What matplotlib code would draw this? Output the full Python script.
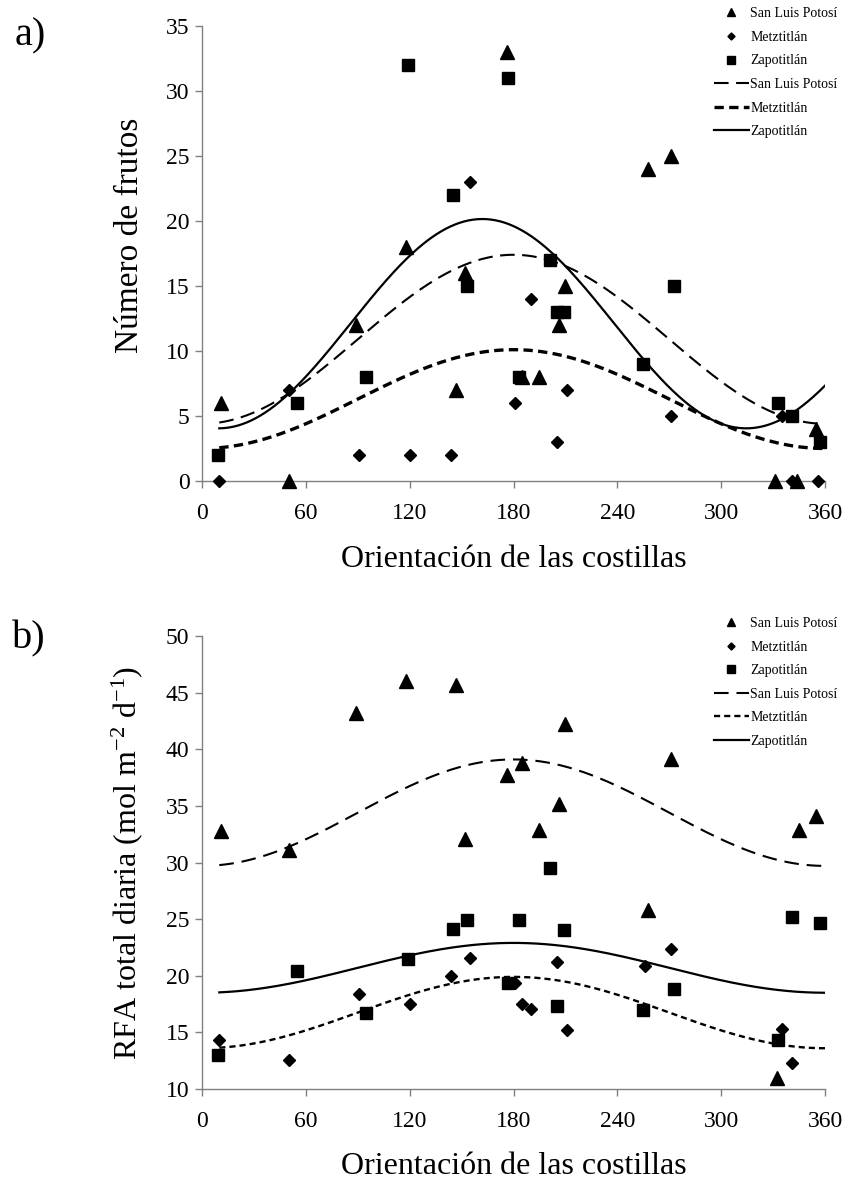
import numpy as np
import matplotlib
matplotlib.use('Agg')
import matplotlib.pyplot as plt

plt.rcParams['font.family'] = ['Liberation Serif', 'DejaVu Serif']
plt.rcParams['mathtext.fontset'] = 'custom'
plt.rcParams['mathtext.rm'] = 'Liberation Serif'
plt.rcParams['mathtext.it'] = 'Liberation Serif:italic'

sites = ['San Luis Potosí', 'Metztitlán', 'Zapotitlán']

# a) numero de frutos
slp_x_a = [11, 50, 89, 118, 147, 152, 176, 185, 195, 206, 210, 258, 271, 331, 344, 355]
slp_y_a = [6, 0, 12, 18, 7, 16, 33, 8, 8, 12, 15, 24, 25, 0, 0, 4]
met_x_a = [10, 50, 91, 120, 144, 155, 181, 190, 205, 211, 271, 335, 341, 356]
met_y_a = [0, 7, 2, 2, 2, 23, 6, 14, 3, 7, 5, 5, 0, 0]
zap_x_a = [9, 55, 95, 119, 145, 153, 177, 183, 201, 205, 209, 255, 273, 333, 341, 357]
zap_y_a = [2, 6, 8, 32, 22, 15, 31, 8, 17, 13, 13, 9, 15, 6, 5, 3]

# b) RFA total diaria
slp_x_b = [11, 50, 89, 118, 147, 152, 176, 185, 195, 206, 210, 258, 271, 332, 345, 355]
slp_y_b = [32.8, 31.1, 43.2, 46.0, 45.7, 32.1, 37.7, 38.8, 32.9, 35.2, 42.2, 25.8, 39.1, 11.0, 32.9, 34.1]
met_x_b = [10, 50, 91, 120, 144, 155, 181, 185, 190, 205, 211, 256, 271, 335, 341]
met_y_b = [14.3, 12.6, 18.4, 17.5, 20.0, 21.6, 19.4, 17.5, 17.1, 21.2, 15.2, 20.9, 22.4, 15.3, 12.3]
zap_x_b = [9, 55, 95, 119, 145, 153, 177, 183, 201, 205, 209, 255, 273, 333, 341, 357]
zap_y_b = [13.0, 20.4, 16.7, 21.5, 24.1, 24.9, 19.4, 24.9, 29.5, 17.3, 24.05, 16.96, 18.8, 14.3, 25.2, 24.7]

# fitted cosine curves: mean, amplitude, peak (deg), period (deg)
fit_a = [[10.9, 6.5, 180, 360], [6.3, 3.8, 180, 360], [12.1, 8.05, 162, 305]]
fit_b = [[34.4, 4.7, 180, 360], [16.75, 3.15, 180, 360], [20.7, 2.2, 180, 360]]

markers = [('^', 9.5), ('D', 5.8), ('s', 8.8)]


def cosine_fit(pars, x):
    mean, amp, peak, period = pars
    return mean + amp * np.cos(2 * np.pi * (x - peak) / period)


def draw_panel(ax, xs, ys, fits, line_styles, ylim, yticks, ylabel, ylabel_size, ylabel_y, leg_anchor):
    for (m, ms), x, y, name in zip(markers, xs, ys, sites):
        ax.plot(x, y, ls='none', marker=m, ms=ms, color='black', label=name,
                clip_on=False, zorder=4)
    xx = np.linspace(10, 360, 400)
    for pars, st, name in zip(fits, line_styles, sites):
        ax.plot(xx, cosine_fit(pars, xx), color='black', label=name, zorder=3, **st)

    ax.set_xlim(0, 360)
    ax.set_ylim(*ylim)
    ax.set_xticks(np.arange(0, 361, 60))
    ax.set_yticks(yticks)
    for s in ['top', 'right']:
        ax.spines[s].set_visible(False)
    for s in ['left', 'bottom']:
        ax.spines[s].set_color('#808080')
        ax.spines[s].set_linewidth(1.0)
    ax.tick_params(axis='both', direction='out', length=5, width=1.0, color='#808080',
                   labelsize=17)
    ax.tick_params(axis='x', pad=11)
    ax.tick_params(axis='y', pad=4)

    ax.set_xlabel('Orientación de las costillas', fontsize=23)
    ax.xaxis.set_label_coords(0.5, -0.14)
    ax.set_ylabel(ylabel, fontsize=ylabel_size)
    ax.yaxis.set_label_coords(-0.092, ylabel_y)

    ax.legend(loc='upper right', bbox_to_anchor=leg_anchor, frameon=False,
              fontsize=10, handlelength=2.5, handletextpad=0.1, labelspacing=0.76,
              borderpad=0, borderaxespad=0, numpoints=1, markerscale=0.62)


fig = plt.figure(figsize=(8.48, 11.85), dpi=100)
ax_a = fig.add_axes([0.2382, 0.5941, 0.7347, 0.3840])
ax_b = fig.add_axes([0.2382, 0.0810, 0.7347, 0.3823])

styles_a = [dict(lw=1.5, dashes=(7.0, 3.6)),
            dict(lw=2.4, dashes=(2.8, 1.6)),
            dict(lw=1.6, ls='-')]
styles_b = [dict(lw=1.5, dashes=(7.0, 3.8)),
            dict(lw=1.7, dashes=(2.6, 1.7)),
            dict(lw=1.6, ls='-')]

draw_panel(ax_a, [slp_x_a, met_x_a, zap_x_a], [slp_y_a, met_y_a, zap_y_a], fit_a, styles_a,
           (0, 35), np.arange(0, 36, 5), 'Número de frutos', 24, 0.54, (1.02, 1.041))
draw_panel(ax_b, [slp_x_b, met_x_b, zap_x_b], [slp_y_b, met_y_b, zap_y_b], fit_b, styles_b,
           (10, 50), np.arange(10, 51, 5),
           r'RFA total diaria (mol m$^{\mathregular{-2}}$ d$^{\mathregular{-1}}$)', 23, 0.5,
           (1.02, 1.042))

fig.text(0.017, 1 - 36 / 1185, 'a)', fontsize=29, va='center', ha='left')
fig.text(0.014, 1 - 639 / 1185, 'b)', fontsize=29, va='center', ha='left')

plt.savefig('out.png', dpi=100)
